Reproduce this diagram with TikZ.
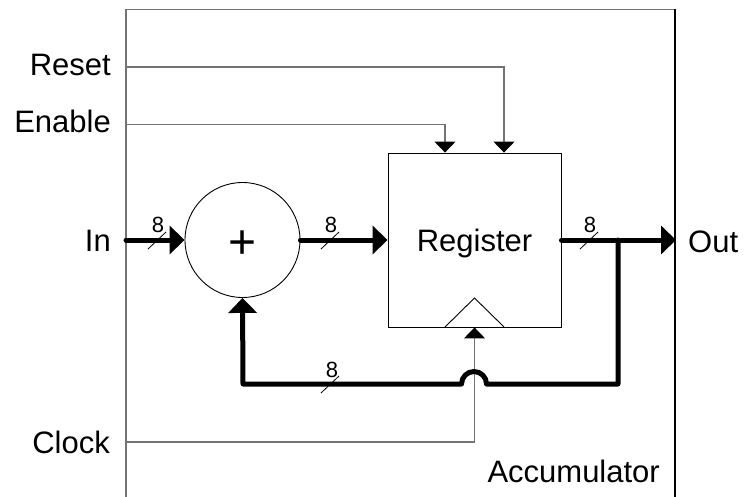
\documentclass[tikz,border=0pt]{standalone}
\usepackage{fontspec}
\setmainfont{Liberation Sans}
\usetikzlibrary{arrows.meta}
\definecolor{sigcol}{gray}{0.45}
\begin{document}
\begin{tikzpicture}[x=1pt,y=-1pt,
  lbl/.style={font=\fontsize{31}{31}\selectfont, inner sep=0pt},
  num/.style={font=\fontsize{22}{22}\selectfont, inner sep=0pt, anchor=base},
  sig/.style={draw=sigcol, line width=1.3pt},
  bus/.style={line width=5pt, line cap=round, line join=round},
  busarrow/.style={-{Triangle[length=15pt,width=28pt]}},
  sigarrow/.style={-{Triangle[length=11pt,width=21pt,color=black]}},
  slash/.style={line width=0.8pt},
  box/.style={draw, line width=0.9pt, inner sep=0pt},
]
\fill[white] (0,0) rectangle (746,497);
\useasboundingbox (0,0) rectangle (746,497);

% outer frame
\draw[sig] (126,497) -- (126,9.5) -- (675,9.5);
\draw[line width=1.3pt] (675,9) -- (675,497);

% blocks
\node[box, circle, minimum size=115pt] (add) at (242.5,240) {};
\node[inner sep=0pt, anchor=base, font=\fontsize{48}{48}\selectfont] (plus) at (242.5,258) {+};
\node[box, minimum width=173pt, minimum height=174pt] (reg) at (474.5,240) {};
\node[lbl, anchor=base] (regtxt) at (474.5,251) {Register};
\draw[line width=0.9pt] (445,327) -- (474.5,298) -- (504,327);

% labels
\node[lbl, anchor=base east] (reset) at (111,76) {Reset};
\node[lbl, anchor=base east] (enable) at (111,133) {Enable};
\node[lbl, anchor=base east] (in) at (111,251) {In};
\node[lbl, anchor=base east] (clock) at (110,453) {Clock};
\node[lbl, anchor=base west] (out) at (688,252) {Out};
\node[lbl, anchor=base east] (acc) at (660,482) {Accumulator};

% free ends at the frame
\coordinate (rsin) at (126,67);
\coordinate (enin) at (126,124.5);
\coordinate (inin) at (126,240);
\coordinate (clkin) at (126,442);
\coordinate (outr) at (676,240);
\coordinate (jn) at (618,240);

% control signals
\draw[sig, sigarrow] (rsin) -| ([xshift=29.5pt]reg.north);
\draw[sig, sigarrow] (enin) -| ([xshift=-29.5pt]reg.north);
\draw[sig, sigarrow] (clkin) -| (reg.south);

% data buses
\draw[bus, busarrow] (inin) -- (add.west);
\draw[bus, busarrow] (add.east) -- (reg.west);
\draw[bus, busarrow] (reg.east) -- (outr);
\draw[bus, busarrow] (jn) -- (618,384) -- (486.5,384)
  arc[start angle=0, end angle=180, radius=12.5pt] -- (243,384) -- (add.south);

% bus widths
\draw[slash] (148,249) -- (166,232);
\node[num] (n1) at (158,232) {8};
\draw[slash] (321,249) -- (339,232);
\node[num] (n2) at (331,232) {8};
\draw[slash] (580,249) -- (598,232);
\node[num] (n3) at (590,232) {8};
\draw[slash] (321,393) -- (339,376);
\node[num] (n4) at (332,377) {8};
\end{tikzpicture}
\end{document}
